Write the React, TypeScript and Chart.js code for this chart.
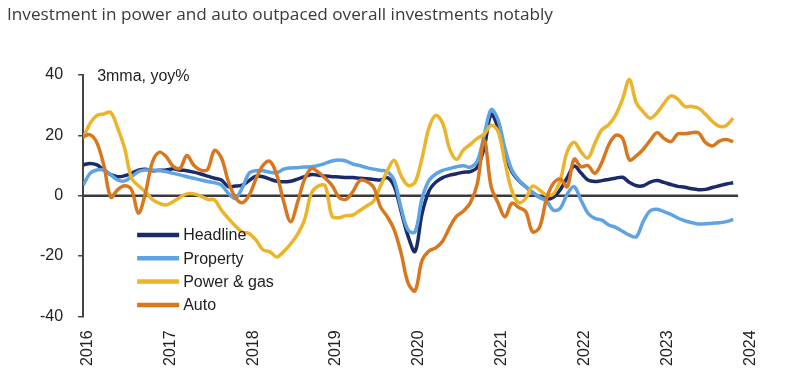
import React, { useEffect, useRef } from 'react';
import { Chart, registerables } from 'chart.js';

Chart.register(...registerables);

const TITLE = 'Investment in power and auto outpaced overall investments notably';
const UNIT_LABEL = '3mma, yoy%';
const yearLabels = ['2016', '2017', '2018', '2019', '2020', '2021', '2022', '2023', '2024'];
const seriesNames = ['Headline', 'Property', 'Power & gas', 'Auto'];
const seriesColors = ['#1b2a6b', '#5fa3e3', '#ebb42a', '#d8771d'];

// monthly values from Jan 2016 (3mma, yoy %)
const headline = [
  10.2, 10.7, 10.2, 8.5, 7.0, 6.3, 6.6, 7.4, 8.5, 8.8, 8.3, 8.4,
  8.5, 8.9, 8.5, 8.3, 7.8, 7.2, 6.5, 5.8, 5.2, 3.0, 3.2, 3.5,
  5.0, 6.5, 6.3, 5.5, 4.8, 4.6, 4.8, 5.5, 6.3, 7.0, 6.8, 6.5,
  6.3, 6.2, 6.0, 6.0, 5.8, 5.6, 5.4, 5.2, 6.0, 3.0, -5.3, -13.5,
  -18.5, -6.0, 1.5, 4.5, 6.0, 6.8, 7.3, 7.8, 8.0, 9.5, 16.0, 27.0,
  22.4, 13.5, 8.0, 5.0, 3.0, 1.0, -0.5, -1.2, -0.5, 2.0, 6.0, 9.8,
  7.5, 5.2, 4.7, 5.0, 5.4, 5.8, 6.1, 4.4, 3.3, 3.3, 4.5, 5.0,
  4.4, 3.7, 3.1, 2.8, 2.3, 2.0, 2.1, 2.7, 3.3, 3.9, 4.3,
];
const property = [
  3.5, 7.4, 8.5, 8.5, 6.9, 5.2, 4.9, 6.3, 8.0, 8.5, 8.5, 8.3,
  8.0, 7.4, 6.9, 6.3, 5.8, 5.2, 4.7, 4.3, 3.5, 0.8, -0.9, 2.5,
  7.5, 8.3, 8.3, 7.8, 7.6, 8.8, 9.2, 9.3, 9.5, 9.6, 10.0, 10.7,
  11.5, 11.8, 11.5, 10.5, 10.0, 9.3, 8.8, 8.4, 8.0, 5.0, -4.3, -11.4,
  -12.0, -1.0, 5.0, 7.2, 8.4, 9.0, 9.6, 9.9, 9.5, 11.5, 20.0, 28.5,
  25.1, 15.7, 8.5, 5.2, 3.0, 1.0, -0.5, -1.8, -4.8, -4.2, 0.5, 3.0,
  -1.5, -5.8, -7.5, -8.1, -9.7, -10.5, -11.8, -13.1, -13.6, -8.5, -5.0, -4.5,
  -5.3, -6.2, -7.4, -8.3, -8.9, -9.4, -9.3, -9.1, -9.0, -8.6, -7.9,
];
const powerGas = [
  19.0, 24.0, 26.6, 27.1, 27.6, 22.4, 15.7, 5.8, 3.3, 1.3, -1.2, -2.5,
  -3.1, -2.0, -0.6, 0.6, 0.6, -0.1, -1.2, -1.4, -4.8, -7.5, -10.0, -12.0,
  -12.5, -14.7, -17.9, -18.6, -20.3, -18.5, -16.0, -12.8, -8.1, 0.8, 3.2, 3.3,
  -6.8, -7.3, -6.6, -6.4, -4.9, -3.4, -1.8, 3.2, 8.3, 11.7, 6.5, 3.4,
  4.5, 12.4, 22.4, 26.6, 24.0, 15.5, 12.0, 15.2, 17.0, 19.0, 20.4, 23.3,
  21.3, 11.1, 1.6, -2.3, -0.9, 3.2, 1.9, 0.2, 0.6, 5.2, 14.6, 17.7,
  14.5, 12.5, 17.4, 21.8, 23.5, 26.7, 32.0, 38.5, 30.7, 27.8, 25.7, 27.5,
  30.6, 33.1, 32.0, 29.6, 29.6, 29.0, 27.0, 24.6, 23.0, 23.3, 25.7,
];
const auto = [
  19.5, 20.2, 17.5, 10.0, -0.5, 2.0, 3.3, 2.0, -5.8, 0.8, 11.0, 14.4,
  13.0, 9.8, 9.1, 13.3, 10.1, 8.5, 8.7, 15.0, 12.5, 4.7, -0.5, -2.3,
  0.1, 5.6, 10.0, 11.4, 6.9, -1.9, -8.6, -2.3, 5.3, 9.0, 7.8, 5.8,
  3.4, -0.5, -1.2, 1.3, 5.0, 4.7, 2.8, -3.7, -7.0, -11.4, -19.2, -29.0,
  -31.5, -21.5, -18.3, -17.3, -15.0, -10.5, -6.8, -5.1, -2.3, 3.9, 18.5, 3.0,
  -2.4, -7.0, -2.5, -3.9, -5.3, -12.0, -10.5, -1.1, 4.1, 5.5, 3.0, 12.1,
  9.6, 10.0, 7.4, 11.0, 16.8, 20.0, 19.0, 11.9, 13.2, 15.4, 18.3, 20.9,
  19.0, 17.9, 20.5, 20.5, 20.9, 20.8, 17.6, 16.5, 18.1, 18.6, 17.9,
];
// horizontal reference line at zero (x in months from Jan 2016)
const zeroLineX = [0, 94.7];
const zeroLineY = [0, 0];

const FONT = '"Liberation Sans", Arial, Helvetica, sans-serif';

export default function App() {
  const ref = useRef<HTMLCanvasElement | null>(null);

  useEffect(() => {
    const canvas = ref.current;
    if (!canvas) return;
    const seriesValues = [headline, property, powerGas, auto];
    const datasets: any[] = seriesValues.map((vals, i) => ({
      label: seriesNames[i],
      data: vals.map((v, m) => ({ x: m, y: v })),
      borderColor: seriesColors[i],
      backgroundColor: seriesColors[i],
      borderWidth: 3.5,
      pointRadius: 0,
      tension: 0.35,
      fill: false,
      order: 4 - i,
    }));
    datasets.push({
      label: 'zero',
      data: zeroLineX.map((x, i) => ({ x, y: zeroLineY[i] })),
      borderColor: '#3a3a3a',
      borderWidth: 2.5,
      pointRadius: 0,
      tension: 0,
      fill: false,
      order: 10,
    });

    const overlayPlugin = {
      id: 'overlayLegend',
      afterDraw(chart: any) {
        const { ctx, chartArea } = chart;
        ctx.save();
        ctx.font = `16px ${FONT}`;
        ctx.fillStyle = '#1e1e1e';
        ctx.textAlign = 'left';
        ctx.textBaseline = 'alphabetic';
        ctx.fillText(UNIT_LABEL, chartArea.left + 14, chartArea.top + 5.5);
        const x0 = chartArea.left + 54;
        const x1 = chartArea.left + 96;
        const tx = chartArea.left + 100;
        const y0 = chartArea.top + 160;
        seriesNames.forEach((name, i) => {
          const yy = y0 + i * 23.3;
          ctx.strokeStyle = seriesColors[i];
          ctx.lineWidth = 4.5;
          ctx.lineCap = 'butt';
          ctx.beginPath();
          ctx.moveTo(x0, yy);
          ctx.lineTo(x1, yy);
          ctx.stroke();
          ctx.textBaseline = 'middle';
          ctx.fillStyle = '#1e1e1e';
          ctx.fillText(name, tx, yy + 1);
        });
        ctx.restore();
      },
    };

    const chart = new Chart(canvas, {
      type: 'line',
      data: { datasets },
      options: {
        animation: false,
        responsive: false,
        layout: { padding: { left: 25, right: 39, top: 75, bottom: 20 } },
        plugins: {
          legend: { display: false },
          tooltip: { enabled: false },
          title: { display: false },
        },
        scales: {
          x: {
            type: 'linear',
            min: 0,
            max: 96,
            grid: { display: false, drawTicks: true, tickLength: 14 },
            border: { display: false },
            ticks: {
              stepSize: 12,
              autoSkip: false,
              minRotation: 90,
              maxRotation: 90,
              padding: 0,
              labelOffset: 4,
              color: '#222',
              font: { family: FONT, size: 16 },
              callback: (v: any) => yearLabels[Math.round(Number(v) / 12)] ?? '',
            },
          },
          y: {
            min: -40,
            max: 40,
            grid: { display: true, drawOnChartArea: false, drawTicks: true, tickLength: 5, color: '#444', lineWidth: 1.5 },
            border: { display: true, color: '#444', width: 2 },
            ticks: {
              stepSize: 20,
              padding: 15,
              color: '#222',
              font: { family: FONT, size: 16 },
            },
          },
        },
      },
      plugins: [overlayPlugin],
    } as any);
    return () => chart.destroy();
  }, []);

  return (
    <div style={{ position: 'fixed', left: 0, top: 0, width: 786, height: 386, background: '#fff', overflow: 'hidden' }}>
      <canvas ref={ref} width={786} height={386} style={{ position: 'absolute', left: 0, top: 0, width: 786, height: 386 }} />
      <div
        style={{
          position: 'absolute',
          left: 7,
          top: 2,
          fontFamily: '"Open Sans", sans-serif',
          fontSize: 17.2,
          color: '#3a3a3a',
          whiteSpace: 'nowrap',
        }}
      >
        {TITLE}
      </div>
    </div>
  );
}
